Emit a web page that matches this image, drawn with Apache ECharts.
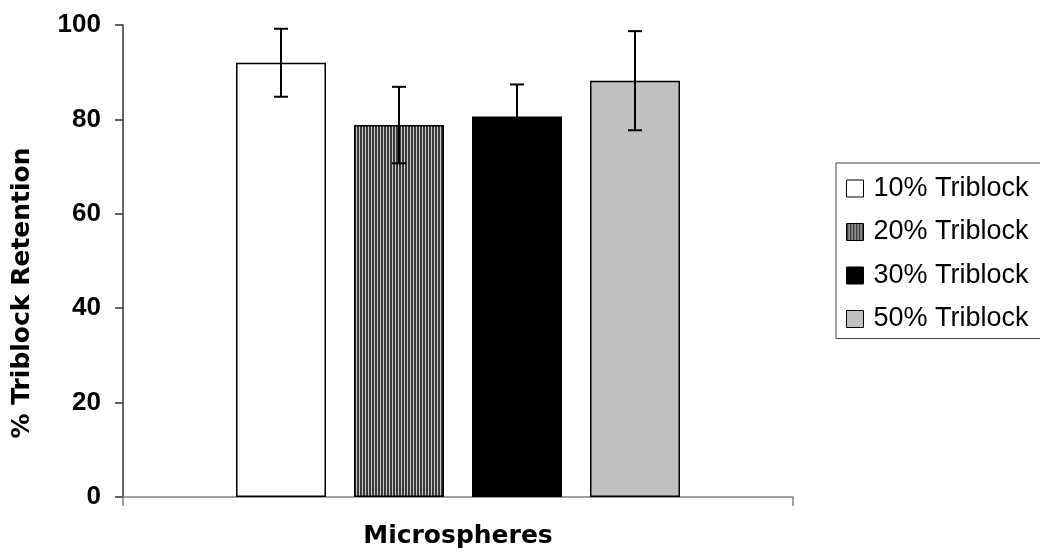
<!DOCTYPE html>
<html>
<head>
<meta charset="utf-8">
<script src="https://cdn.jsdelivr.net/npm/echarts@6/dist/echarts.min.js"></script>
<style>
  html, body { margin: 0; padding: 0; background: #fff; }
  #chart { width: 1040px; height: 554px; }
</style>
</head>
<body>
<div id="chart"></div>
<script>
// data
var categories = ['Microspheres']
var seriesNames = ['10% Triblock', '20% Triblock', '30% Triblock', '50% Triblock']
var means = [92.0, 78.8, 80.6, 88.2]
var errors = [7.2, 8.1, 6.8, 10.5]
var yTicks = [0, 20, 40, 60, 80, 100]

var BAR_W = 90
var BAR_GAP = 28
var FONT = '"Liberation Sans", Arial, sans-serif'
var TITLE_FONT = '"DejaVu Sans", sans-serif'

// vertical stripes for the 20% bar
function stripes() {
  var c = document.createElement('canvas')
  c.width = 3
  c.height = 4
  var ctx = c.getContext('2d')
  ctx.fillStyle = '#c8c8c8'
  ctx.fillRect(0, 0, 3, 4)
  ctx.fillStyle = '#3a3a3a'
  ctx.fillRect(0, 0, 2, 4)
  return c
}

var fills = ['#ffffff', { image: stripes(), repeat: 'repeat' }, '#000000', '#c0c0c0']

var chart = echarts.init(document.getElementById('chart'))

var series = seriesNames.map(function (name, i) {
  return {
    name: name,
    type: 'bar',
    barWidth: BAR_W,
    barGap: (BAR_GAP / BAR_W * 100) + '%',
    itemStyle: { color: fills[i], borderColor: '#000', borderWidth: 1.5 },
    data: [means[i]]
  }
})

var errData = means.map(function (m, i) {
  return [i, m - errors[i], m + errors[i]]
})

series.push({
  type: 'custom',
  z: 10,
  silent: true,
  data: errData,
  renderItem: function (params, api) {
    var i = api.value(0)
    var cx = api.coord([0, 0])[0] + (i - (seriesNames.length - 1) / 2) * (BAR_W + BAR_GAP)
    var lo = api.coord([0, api.value(1)])[1]
    var hi = api.coord([0, api.value(2)])[1]
    var cap = 7
    var st = { stroke: '#000', lineWidth: 2 }
    return {
      type: 'group',
      children: [
        { type: 'line', shape: { x1: cx, y1: lo, x2: cx, y2: hi }, style: st },
        { type: 'line', shape: { x1: cx - cap, y1: hi, x2: cx + cap, y2: hi }, style: st },
        { type: 'line', shape: { x1: cx - cap, y1: lo, x2: cx + cap, y2: lo }, style: st }
      ]
    }
  }
})

chart.setOption({
  animation: false,
  grid: { left: 123, right: 247, top: 25, bottom: 55 },
  legend: {
    data: seriesNames,
    orient: 'vertical',
    left: 836,
    top: 163,
    padding: [12, 40, 6, 10],
    itemWidth: 17,
    itemHeight: 17,
    itemGap: 16.5,
    borderColor: '#444',
    borderWidth: 1,
    icon: 'rect',
    itemStyle: { borderColor: '#000', borderWidth: 1 },
    textStyle: { fontFamily: FONT, fontSize: 27, lineHeight: 27, color: '#000', padding: [0, 0, 0, 5] }
  },
  xAxis: {
    type: 'category',
    data: categories,
    name: 'Microspheres',
    nameLocation: 'middle',
    nameGap: 27,
    nameTextStyle: { fontFamily: TITLE_FONT, fontSize: 25, fontWeight: 'bold', color: '#000' },
    axisLine: { lineStyle: { color: '#808080', width: 1.5 } },
    axisTick: { show: true, length: 9, lineStyle: { color: '#808080', width: 1.5 } },
    axisLabel: { show: false }
  },
  yAxis: {
    type: 'value',
    min: yTicks[0],
    max: yTicks[yTicks.length - 1],
    interval: yTicks[1] - yTicks[0],
    name: '% Triblock Retention',
    nameLocation: 'middle',
    nameGap: 88,
    nameTextStyle: { fontFamily: TITLE_FONT, fontSize: 25, fontWeight: 'bold', color: '#000', padding: [0, 64, 0, 0] },
    axisLine: { show: true, lineStyle: { color: '#333', width: 1.5 } },
    axisTick: { show: true, length: 8, lineStyle: { color: '#333', width: 1.5 } },
    axisLabel: { margin: 22, fontFamily: FONT, fontSize: 26, fontWeight: 'bold', color: '#000' },
    splitLine: { show: false }
  },
  series: series
})
</script>
</body>
</html>
